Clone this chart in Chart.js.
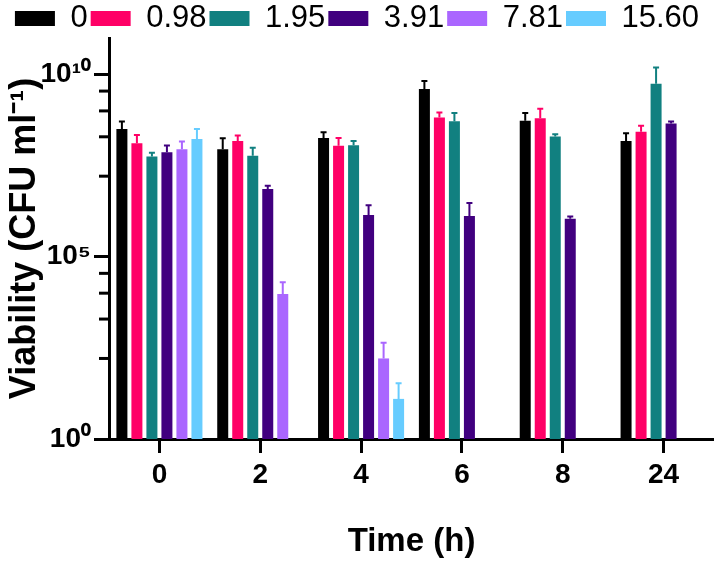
<!DOCTYPE html>
<html><head><meta charset="utf-8">
<script src="https://cdn.jsdelivr.net/npm/chart.js@4.4.1/dist/chart.umd.min.js"></script>
<style>html,body{margin:0;padding:0;background:#fff;} canvas{display:block;}</style>
</head><body>
<canvas id="c" width="714" height="565"></canvas>
<script>
// Categories (time, h) and series (concentration)
const timeLabels = ['0', '2', '4', '6', '8', '24'];
const concLabels = ['0', '0.98', '1.95', '3.91', '7.81', '15.60'];

// Mean viability (CFU/ml) per time point, one array per concentration
const viab_0    = [3.2e8, 8.9e7, 1.8e8, 4.0e9, 5.4e8, 1.5e8];
const viab_098  = [1.3e8, 1.5e8, 1.1e8, 6.6e8, 6.3e8, 2.7e8];
const viab_195  = [5.6e7, 5.9e7, 1.15e8, 5.2e8, 2.0e8, 5.6e9];
const viab_391  = [7.4e7, 7.2e6, 1.4e6, 1.3e6, 1.1e6, 4.5e8];
const viab_781  = [8.9e7, 9.5e3, 162, null, null, null];
const viab_1560 = [1.7e8, null, 12.6, null, null, null];

// Upper error (SD) per bar
const err_0    = [1.9e8, 9.0e7, 8.0e7, 2.6e9, 3.3e8, 9.5e7];
const err_098  = [9.0e7, 6.0e7, 7.0e7, 2.5e8, 5.2e8, 1.2e8];
const err_195  = [1.5e7, 3.9e7, 3.5e7, 3.5e8, 3.0e7, 9.9e9];
const err_391  = [3.8e7, 1.7e6, 1.2e6, 1.7e6, 1.6e5, 6.0e7];
const err_781  = [5.6e7, 1.05e4, 275, null, null, null];
const err_1560 = [1.5e8, null, 21, null, null, null];

// Y axis ticks
const yMajorTicks = [1, 1e5, 1e10];
const yMajorLabels = ['10\u2070', '10\u2075', '10\u00B9\u2070'];
const yMinorTicks = [162, 1950, 1e4, 3.5e4, 1.62e7, 1.95e8, 1e9, 3.5e9];

const colors = ['#000000', '#ff0066', '#118080', '#41007f', '#aa66ff', '#66ccff'];
const seriesValues = [viab_0, viab_098, viab_195, viab_391, viab_781, viab_1560];
const seriesErrors = [err_0, err_098, err_195, err_391, err_781, err_1560];

const FONT = '"Liberation Sans", Arial, sans-serif';

const errorBars = {
  id: 'errorBars',
  afterDatasetsDraw(chart) {
    const ctx = chart.ctx, ys = chart.scales.y;
    chart.data.datasets.forEach((ds, i) => {
      const meta = chart.getDatasetMeta(i);
      meta.data.forEach((bar, j) => {
        const v = ds.data[j], e = ds.errors[j];
        if (v == null || e == null) return;
        const yt = ys.getPixelForValue(v + e);
        ctx.save();
        ctx.strokeStyle = ds.backgroundColor;
        ctx.lineWidth = 2;
        ctx.beginPath();
        ctx.moveTo(bar.x, bar.y);
        ctx.lineTo(bar.x, yt);
        ctx.moveTo(bar.x - 3, yt);
        ctx.lineTo(bar.x + 3, yt);
        ctx.stroke();
        ctx.restore();
      });
    });
    // minor ticks on the y axis
    const x = chart.chartArea.left;
    ctx.save();
    ctx.strokeStyle = '#000';
    ctx.lineWidth = 3;
    yMinorTicks.forEach(v => {
      const y = ys.getPixelForValue(v);
      ctx.beginPath();
      ctx.moveTo(x - 10, y);
      ctx.lineTo(x, y);
      ctx.stroke();
    });
    ctx.restore();
  }
};

const legendFit = {
  id: 'legendFit',
  beforeLayout(chart) {
    const lg = chart.legend;
    if (lg && !lg._patched) {
      const orig = lg.fit;
      lg.fit = function () { orig.call(this); this.height = 38; };
      lg._patched = true;
    }
  }
};

new Chart(document.getElementById('c'), {
  type: 'bar',
  data: {
    labels: timeLabels,
    datasets: concLabels.map((lab, i) => ({
      label: lab,
      data: seriesValues[i],
      errors: seriesErrors[i],
      backgroundColor: colors[i],
      borderWidth: 0,
      categoryPercentage: 0.893,
      barPercentage: 0.733
    }))
  },
  options: {
    responsive: false,
    animation: false,
    devicePixelRatio: 1,
    layout: { padding: 0 },
    plugins: {
      tooltip: { enabled: false },
      legend: {
        position: 'top',
        labels: {
          color: '#000',
          font: { family: FONT, size: 31 },
          boxWidth: 40,
          boxHeight: 15,
          padding: 3
        }
      }
    },
    scales: {
      x: {
        offset: true,
        grid: { display: true, offset: false, drawOnChartArea: false, drawTicks: true, tickLength: 14, tickWidth: 3, tickColor: '#000' },
        border: { display: true, color: '#000', width: 3 },
        ticks: { color: '#000', font: { family: FONT, size: 28, weight: 'bold' }, padding: 5, maxRotation: 0 },
        title: { display: true, text: 'Time (h)', color: '#000', font: { family: FONT, size: 33, weight: 'bold' }, padding: { top: 0, bottom: 3 } },
        afterFit(s) { s.height = 126; }
      },
      y: {
        type: 'logarithmic',
        min: 1,
        max: 1e11,
        grid: { display: true, drawOnChartArea: false, drawTicks: true, tickLength: 15, tickWidth: 3, tickColor: '#000' },
        border: { display: true, color: '#000', width: 3 },
        afterBuildTicks(s) { s.ticks = yMajorTicks.map(v => ({ value: v, major: true })); },
        ticks: {
          autoSkip: false,
          color: '#000',
          padding: 3,
          font: { family: FONT, size: 28, weight: 'bold' },
          callback(v) { const k = yMajorTicks.indexOf(v); return k >= 0 ? yMajorLabels[k] : ''; }
        },
        title: { display: true, text: 'Viability (CFU ml\u207B\u00B9)', color: '#000', font: { family: FONT, size: 36, weight: 'bold' }, padding: { top: 3, bottom: 0 } },
        afterFit(s) { s.width = 109; }
      }
    }
  },
  plugins: [errorBars, legendFit]
});
</script>
</body></html>
